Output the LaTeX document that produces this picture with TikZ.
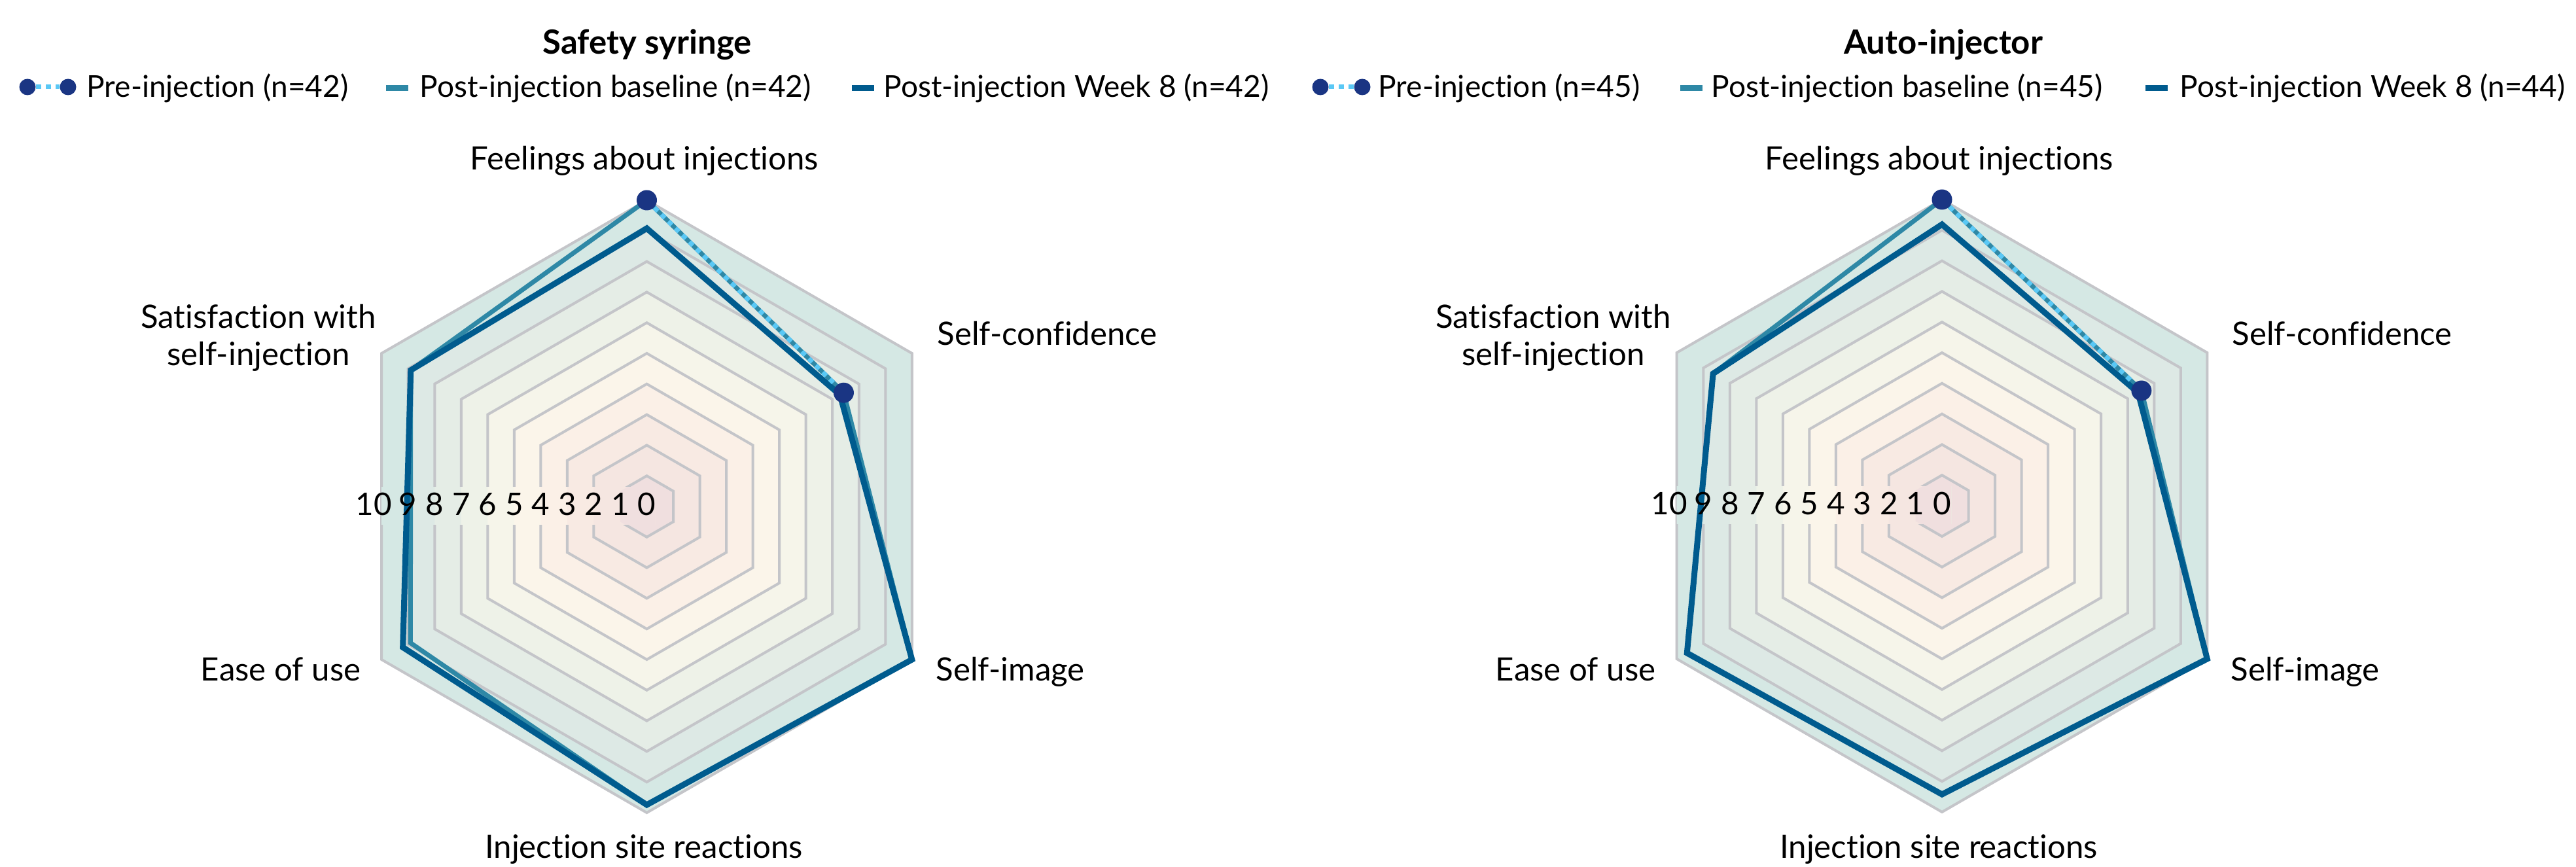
\documentclass[tikz,border=0pt]{standalone}
\usepackage{fontspec}
\setmainfont{Lato}[Ligatures={NoCommon,NoRare}]
\usetikzlibrary{calc}

\definecolor{gridgray}{HTML}{C4C5C9}
\definecolor{basecol}{HTML}{2E88A6}
\definecolor{weekcol}{HTML}{005B8E}
\definecolor{precol}{HTML}{5AC8F5}
\definecolor{dotcol}{HTML}{1A3583}
\definecolor{band1}{HTML}{F0DFDF}
\definecolor{band2}{HTML}{F5E6E1}
\definecolor{band3}{HTML}{F8EAE3}
\definecolor{band4}{HTML}{FBF0E7}
\definecolor{band5}{HTML}{FBF5EA}
\definecolor{band6}{HTML}{F6F5EA}
\definecolor{band7}{HTML}{EEF2E8}
\definecolor{band8}{HTML}{E5EDE6}
\definecolor{band9}{HTML}{DDE9E5}
\definecolor{band10}{HTML}{D5E8E4}

% hexagon of radius #1 round the scope origin
\newcommand{\hexring}[1]{(90:#1) -- (30:#1) -- (-30:#1) -- (-90:#1) -- (-150:#1) -- (150:#1) -- cycle}

\begin{document}
\begin{tikzpicture}[
    ring/.style={draw=gridgray, line width=0.04cm},
    baseline/.style={draw=basecol, line width=0.07cm, line join=miter},
    weekeight/.style={draw=weekcol, line width=0.09cm, line join=miter},
    preline/.style={draw=precol, line width=0.07cm, dash pattern=on 0.075cm off 0.075cm},
    predot/.style={circle, fill=dotcol, inner sep=0pt, minimum size=0.31cm},
    legdot/.style={circle, fill=dotcol, inner sep=0pt, minimum size=0.25cm},
    legbar/.style={rectangle, inner sep=0pt, minimum width=0.34cm, minimum height=0.09cm},
    axlabel/.style={font=\fontsize{14}{16.2}\selectfont, inner sep=0pt},
    scalelabel/.style={font=\fontsize{13.5}{16}\selectfont, inner sep=0pt, anchor=base},
    legtext/.style={font=\fontsize{13.1}{16}\selectfont, inner sep=0pt, anchor=base west},
    charttitle/.style={font=\bfseries\fontsize{14.5}{17}\selectfont, inner sep=0pt, anchor=base}
]
\fill[white] (0,0) rectangle (39.37,13.25);
\useasboundingbox (0,0) rectangle (39.37,13.25);

% rings, bands and scale of both charts
\foreach \cx/\cy/\tag in {9.885/5.51/ss, 29.68/5.52/ai} {
  \begin{scope}[shift={(\cx,\cy)}]
    \foreach \k in {10,9,...,1}
      \fill[band\k] \hexring{{0.468*\k}};
    \foreach \k in {1,...,10}
      \draw[ring] \hexring{{0.468*\k}};
    \begin{scope}
      \clip (-4.5,-0.28) rectangle (0.14,0.29);
      \foreach \k in {10,9,...,1}
        \fill[band\k] \hexring{{0.468*\k}};
    \end{scope}
  \end{scope}
}

% Safety syringe
\begin{scope}[shift={(9.885,5.51)}]
  \coordinate (ssb1) at (90:4.68);
  \coordinate (ssb2) at (30:3.475);
  \coordinate (ssb3) at (-30:4.68);
  \coordinate (ssb4) at (-90:4.56);
  \coordinate (ssb5) at (-150:4.17);
  \coordinate (ssb6) at (150:4.165);
  \coordinate (ssw1) at (90:4.25);
  \coordinate (ssw2) at (30:3.41);
  \coordinate (ssw3) at (-30:4.68);
  \coordinate (ssw4) at (-90:4.56);
  \coordinate (ssw5) at (-150:4.305);
  \coordinate (ssw6) at (150:4.165);
  \draw[baseline] (ssb1) -- (ssb2) -- (ssb3) -- (ssb4) -- (ssb5) -- (ssb6) -- cycle;
  \draw[weekeight] (ssw1) -- (ssw2) -- (ssw3) -- (ssw4) -- (ssw5) -- (ssw6) -- cycle;
  \node[predot] (ssp1) at (90:4.68) {};
  \node[predot] (ssp2) at (30:3.475) {};
  \draw[preline] (ssp1) -- (ssp2);
  \foreach \k in {0,...,9}
    \node[scalelabel] (sss\k) at ({-0.4053*\k},-0.14) {\k};
  \node[scalelabel] (sss10) at (-4.17,-0.14) {10};
\end{scope}

\node[charttitle] (sstitle) at (9.89,12.42) {Safety syringe};
\node[axlabel, anchor=base] (ssfeel) at (9.85,10.65) {Feelings about injections};
\node[axlabel, anchor=base west] (ssconf) at (14.32,7.97) {Self-confidence};
\node[axlabel, anchor=base west] (ssimg) at (14.30,2.84) {Self-image};
\node[axlabel, anchor=base] (sssite) at (9.84,0.13) {Injection site reactions};
\node[axlabel, anchor=base east] (ssease) at (5.52,2.84) {Ease of use};
\node[axlabel, align=center] (sssat) at (3.95,8.09) {Satisfaction with\\self-injection};

% legend, safety syringe
\node[legdot] (sslp1) at (0.42,11.92) {};
\node[legdot] (sslp2) at (1.04,11.92) {};
\draw[preline] (sslp1) -- (sslp2);
\node[legtext] (sslt1) at (1.32,11.76) {Pre-injection (n=42)};
\node[legbar, fill=basecol] (sslb) at (6.07,11.90) {};
\node[legtext] (sslt2) at (6.41,11.76) {Post-injection baseline (n=42)};
\node[legbar, fill=weekcol] (sslw) at (13.19,11.90) {};
\node[legtext] (sslt3) at (13.50,11.76) {Post-injection Week 8 (n=42)};

% Auto-injector
\begin{scope}[shift={(29.68,5.52)}]
  \coordinate (aib1) at (90:4.68);
  \coordinate (aib2) at (30:3.52);
  \coordinate (aib3) at (-30:4.68);
  \coordinate (aib4) at (-90:4.41);
  \coordinate (aib5) at (-150:4.50);
  \coordinate (aib6) at (150:4.04);
  \coordinate (aiw1) at (90:4.30);
  \coordinate (aiw2) at (30:3.46);
  \coordinate (aiw3) at (-30:4.68);
  \coordinate (aiw4) at (-90:4.41);
  \coordinate (aiw5) at (-150:4.50);
  \coordinate (aiw6) at (150:4.04);
  \draw[baseline] (aib1) -- (aib2) -- (aib3) -- (aib4) -- (aib5) -- (aib6) -- cycle;
  \draw[weekeight] (aiw1) -- (aiw2) -- (aiw3) -- (aiw4) -- (aiw5) -- (aiw6) -- cycle;
  \node[predot] (aip1) at (90:4.68) {};
  \node[predot] (aip2) at (30:3.52) {};
  \draw[preline] (aip1) -- (aip2);
  \foreach \k in {0,...,9}
    \node[scalelabel] (ais\k) at ({-0.4053*\k},-0.14) {\k};
  \node[scalelabel] (ais10) at (-4.17,-0.14) {10};
\end{scope}

\node[charttitle] (aititle) at (29.70,12.42) {Auto-injector};
\node[axlabel, anchor=base] (aifeel) at (29.64,10.65) {Feelings about injections};
\node[axlabel, anchor=base west] (aiconf) at (34.11,7.97) {Self-confidence};
\node[axlabel, anchor=base west] (aiimg) at (34.09,2.84) {Self-image};
\node[axlabel, anchor=base] (aisite) at (29.63,0.13) {Injection site reactions};
\node[axlabel, anchor=base east] (aiease) at (25.31,2.84) {Ease of use};
\node[axlabel, align=center] (aisat) at (23.74,8.09) {Satisfaction with\\self-injection};

% legend, auto-injector
\node[legdot] (ailp1) at (20.18,11.92) {};
\node[legdot] (ailp2) at (20.82,11.92) {};
\draw[preline] (ailp1) -- (ailp2);
\node[legtext] (ailt1) at (21.06,11.76) {Pre-injection (n=45)};
\node[legbar, fill=basecol] (ailb) at (25.85,11.90) {};
\node[legtext] (ailt2) at (26.15,11.76) {Post-injection baseline (n=45)};
\node[legbar, fill=weekcol] (ailw) at (32.96,11.90) {};
\node[legtext] (ailt3) at (33.31,11.76) {Post-injection Week 8 (n=44)};
\end{tikzpicture}
\end{document}
